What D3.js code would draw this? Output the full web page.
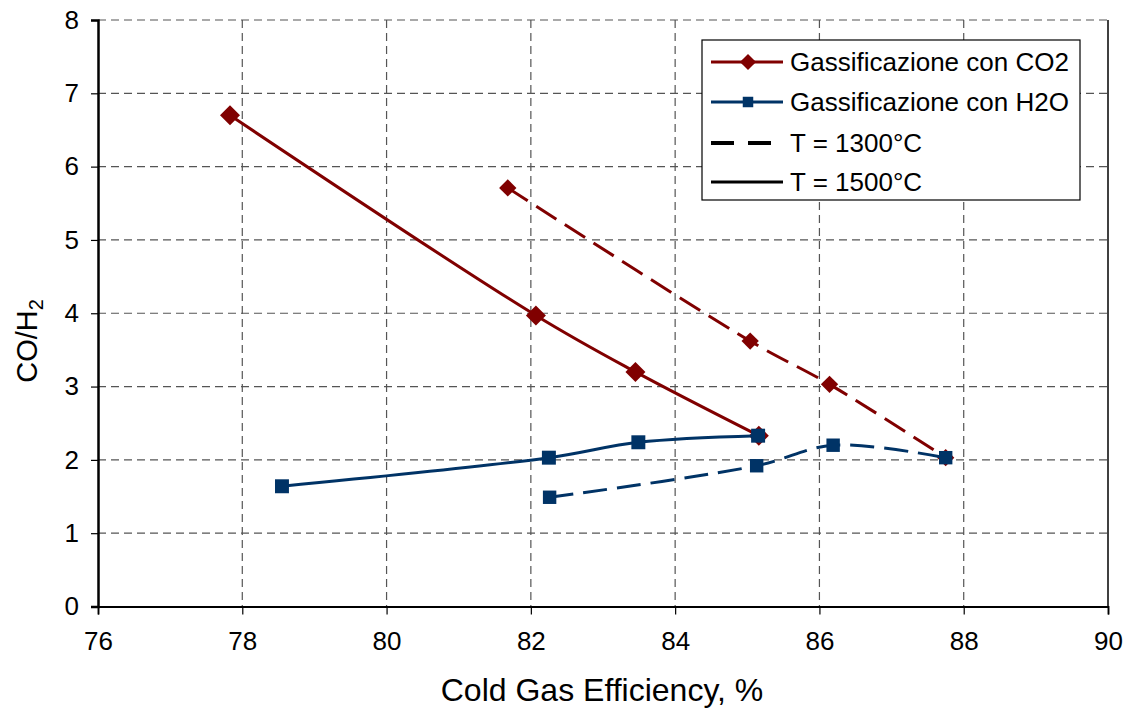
<!DOCTYPE html>
<html>
<head>
<meta charset="UTF-8">
<script src="https://d3js.org/d3.v7.min.js"></script>
<style>
  body { margin: 0; background: #fff; font-family: "Liberation Sans", Arial, sans-serif; }
  .grid line { stroke: #555; stroke-dasharray: 8,5; stroke-width: 1.2; }
  .tick text { font-size: 26px; fill: #000; font-family: "Liberation Sans", Arial, sans-serif; }
</style>
</head>
<body>
<svg id="chart" width="1129" height="708"></svg>
<script>
// data
var xTicks = [76, 78, 80, 82, 84, 86, 88, 90];
var yTicks = [0, 1, 2, 3, 4, 5, 6, 7, 8];

var co2_1500_x = [77.83, 82.07, 83.45, 85.16];
var co2_1500_y = [6.70, 3.97, 3.20, 2.33];
var co2_1300_x = [81.68, 85.04, 86.14, 87.75];
var co2_1300_y = [5.71, 3.62, 3.03, 2.03];
var h2o_1500_x = [78.55, 82.25, 83.49, 85.15];
var h2o_1500_y = [1.64, 2.03, 2.24, 2.33];
var h2o_1300_x = [82.26, 85.13, 86.19, 87.75];
var h2o_1300_y = [1.49, 1.92, 2.20, 2.03];

var legendLabels = ["Gassificazione con CO2", "Gassificazione con H2O", "T = 1300°C", "T = 1500°C"];

var red = "#800000", blue = "#003366";

var svg = d3.select("#chart");
var pLeft = 98, pRight = 1108, pTop = 20, pBottom = 606.5;

var x = d3.scaleLinear().domain([76, 90]).range([pLeft, pRight]);
var y = d3.scaleLinear().domain([0, 8]).range([pBottom, pTop]);

// grid
var grid = svg.append("g").attr("class", "grid");
grid.selectAll(".vg").data(xTicks.slice(1, -1)).join("line")
  .attr("x1", d => x(d)).attr("x2", d => x(d))
  .attr("y1", pTop).attr("y2", pBottom);
grid.selectAll(".hg").data(yTicks.slice(1)).join("line")
  .attr("x1", pLeft).attr("x2", pRight)
  .attr("y1", d => y(d)).attr("y2", d => y(d));

// frame
svg.append("line").attr("x1", pRight).attr("x2", pRight).attr("y1", pTop).attr("y2", pBottom)
  .attr("stroke", "#000").attr("stroke-width", 1.5);

// axes
var xAxis = svg.append("g").attr("transform", "translate(0," + pBottom + ")")
  .call(d3.axisBottom(x).tickValues(xTicks).tickSize(8).tickPadding(17));
xAxis.select(".domain").attr("stroke-width", 1.8);
xAxis.selectAll(".tick line").attr("stroke-width", 1.2);

var yAxis = svg.append("g").attr("transform", "translate(" + pLeft + ",0)")
  .call(d3.axisLeft(y).tickValues(yTicks).tickSize(7).tickPadding(12));
yAxis.select(".domain").attr("stroke-width", 2.5);
yAxis.selectAll(".tick line").attr("stroke-width", 1.2);

// axis titles
svg.append("text").attr("x", (pLeft + pRight) / 2 - 1).attr("y", 701)
  .attr("text-anchor", "middle").attr("font-size", 32).text("Cold Gas Efficiency, %");

var yt = svg.append("text").attr("transform", "translate(37," + 341 + ") rotate(-90)")
  .attr("text-anchor", "middle").attr("font-size", 29);
yt.append("tspan").text("CO/H");
yt.append("tspan").attr("font-size", 20).attr("dy", 6).text("2");

// series
var series = [
  { xs: co2_1300_x, ys: co2_1300_y, color: red, dash: "24,10", marker: "diamond", size: 150 },
  { xs: co2_1500_x, ys: co2_1500_y, color: red, dash: null, marker: "diamond", size: 200 },
  { xs: h2o_1300_x, ys: h2o_1300_y, color: blue, dash: "24,10", marker: "square", size: 180 },
  { xs: h2o_1500_x, ys: h2o_1500_y, color: blue, dash: null, marker: "square", size: 195 }
];

var line = d3.line().x(d => x(d[0])).y(d => y(d[1])).curve(d3.curveCatmullRom.alpha(0.5));

function symbolOf(s) {
  return d3.symbol().type(d3.symbolSquare).size(s)();
}

series.forEach(function (s) {
  var pts = s.xs.map((v, i) => [v, s.ys[i]]);
  svg.append("path").attr("d", line(pts)).attr("fill", "none")
    .attr("stroke", s.color).attr("stroke-width", 3)
    .attr("stroke-dasharray", s.dash);
  svg.append("g").selectAll("path").data(pts).join("path")
    .attr("d", symbolOf(s.size))
    .attr("transform", d => "translate(" + x(d[0]) + "," + y(d[1]) + ")" + (s.marker === "diamond" ? " rotate(45)" : ""))
    .attr("fill", s.color);
});

// legend
var lg = svg.append("g").attr("transform", "translate(702,40)");
lg.append("rect").attr("width", 378).attr("height", 160)
  .attr("fill", "#fff").attr("stroke", "#000").attr("stroke-width", 1.2);
var rowsY = [22, 62, 103, 142];
var legItems = [
  { color: red, dash: null, marker: "diamond" },
  { color: blue, dash: null, marker: "square" },
  { color: "#000", dash: "23,14", marker: null },
  { color: "#000", dash: null, marker: null }
];
legItems.forEach(function (it, i) {
  var g = lg.append("g").attr("transform", "translate(0," + rowsY[i] + ")");
  g.append("line").attr("x1", 9).attr("x2", 81).attr("stroke", it.color)
    .attr("stroke-width", it.dash ? 4 : 3).attr("stroke-dasharray", it.dash);
  if (it.marker) {
    g.append("path").attr("d", symbolOf(it.marker === "diamond" ? 130 : 110))
      .attr("transform", "translate(46,0)" + (it.marker === "diamond" ? " rotate(45)" : ""))
      .attr("fill", it.color);
  }
  g.append("text").attr("x", 88).attr("y", 9).attr("font-size", 26).text(legendLabels[i]);
});
</script>
</body>
</html>
